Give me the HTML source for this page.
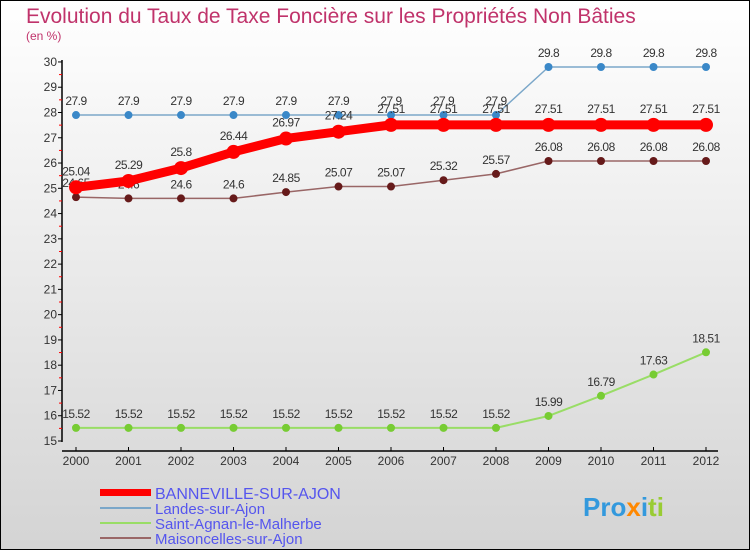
<!DOCTYPE html>
<html><head><meta charset="utf-8"><style>
body{margin:0;}
#c{width:750px;height:550px;position:relative;background:linear-gradient(#fff,#d4d4d4);border:1px solid #000;box-sizing:border-box;font-family:"Liberation Sans",sans-serif;overflow:hidden}
</style></head><body>
<div id="c">
<svg id="s" width="750" height="550" style="position:absolute;left:-1px;top:-1px">
<text x="26" y="23" font-size="21" fill="#c0336b">Evolution du Taux de Taxe Foncière sur les Propriétés Non Bâties</text>
<text x="26" y="40" font-size="12" fill="#c0336b">(en %)</text>
<g id="axes"></g><g id="series"></g>
<g>
<rect x="100" y="489" width="51" height="7" fill="#f00"/>
<text x="155" y="499" font-size="16" fill="#5555ee">BANNEVILLE-SUR-AJON</text>
<rect x="100" y="507" width="51" height="2" fill="#7ba7c9"/>
<text x="155" y="514" font-size="15" fill="#5555ee">Landes-sur-Ajon</text>
<rect x="100" y="522" width="51" height="2" fill="#99dd66"/>
<text x="155" y="529" font-size="15" fill="#5555ee">Saint-Agnan-le-Malherbe</text>
<rect x="100" y="537" width="51" height="2" fill="#996666"/>
<text x="155" y="544" font-size="15" fill="#5555ee">Maisoncelles-sur-Ajon</text>
</g>
<text x="583" y="516" font-size="26" font-weight="bold"><tspan fill="#3399dd">Pro</tspan><tspan fill="#ff8800">x</tspan><tspan fill="#3399dd">i</tspan><tspan fill="#99cc33">ti</tspan></text>
</svg>
</div>
<script>
const years=[2000,2001,2002,2003,2004,2005,2006,2007,2008,2009,2010,2011,2012];
const yTicks=[15,16,17,18,19,20,21,22,23,24,25,26,27,28,29,30];
const banneville=[25.04,25.29,25.8,26.44,26.97,27.24,27.51,27.51,27.51,27.51,27.51,27.51,27.51];
const landes=[27.9,27.9,27.9,27.9,27.9,27.9,27.9,27.9,27.9,29.8,29.8,29.8,29.8];
const saintAgnan=[15.52,15.52,15.52,15.52,15.52,15.52,15.52,15.52,15.52,15.99,16.79,17.63,18.51];
const maisoncelles=[24.65,24.6,24.6,24.6,24.85,25.07,25.07,25.32,25.57,26.08,26.08,26.08,26.08];
const NS="http://www.w3.org/2000/svg";
const xS=i=>76+52.5*i, yS=v=>441-(v-15)*25.27;
function mk(t,a,p){const e=document.createElementNS(NS,t);for(const k in a)e.setAttribute(k,a[k]);p.appendChild(e);return e;}
const ax=document.getElementById('axes');
let l=mk('line',{x1:62,y1:yS(30)-2,x2:62,y2:442,stroke:'#000','stroke-width':1.5},ax);


yTicks.forEach(v=>{mk('line',{x1:58,x2:62,y1:yS(v),y2:yS(v),stroke:'#000'},ax);
 if(v<30)mk('line',{x1:59,x2:62,y1:yS(v+0.5),y2:yS(v+0.5),stroke:'#f00'},ax);
 const t=mk('text',{x:57,y:yS(v)+4,'font-size':12,'text-anchor':'end',fill:'#333'},ax);t.textContent=v;
 
 });
l=mk('line',{x1:62,y1:451,x2:718,y2:451,stroke:'#000','stroke-width':1.5},ax);


years.forEach((y,i)=>{mk('line',{x1:xS(i),x2:xS(i),y1:447,y2:451,stroke:'#000'},ax);
 const t=mk('text',{x:xS(i),y:465,'font-size':12,'text-anchor':'middle',fill:'#333'},ax);t.textContent=y;
 
 });
const sg=document.getElementById('series');
function draw(vals,col,dot,w,r,name,labDy){
 const g=mk('g',{},sg);
 
 
 mk('polyline',{points:vals.map((v,i)=>xS(i)+','+yS(v)).join(' '),fill:'none',stroke:col,'stroke-width':w,'stroke-linejoin':'round'},g);
 vals.forEach((v,i)=>{const c=mk('circle',{cx:xS(i),cy:yS(v),r:r,fill:dot},g);
  
  
  const t=mk('text',{x:xS(i),y:yS(v)+labDy,'font-size':12,'text-anchor':'middle',fill:'#333','letter-spacing':'-0.5'},g);t.textContent=v;
  
  });
}
draw(landes,'#7ba7c9','#3a88c8',1.5,4,'landes',-10);
draw(saintAgnan,'#99dd66','#77cc33',2,4,'saint-agnan',-10);
draw(maisoncelles,'#996666','#661a1a',1.5,4,'maisoncelles',-10);
draw(banneville,'#f00','#f00',9,7,'banneville',-12);
</script>
</body></html>
